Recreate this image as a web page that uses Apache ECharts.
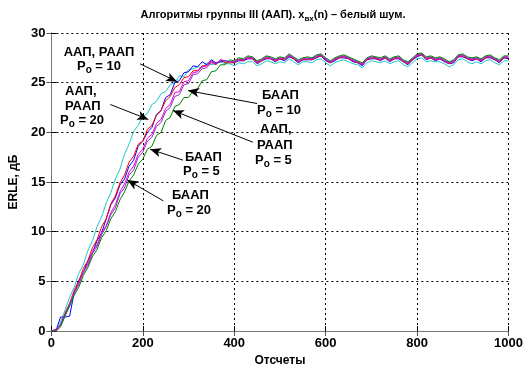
<!DOCTYPE html>
<html><head><meta charset="utf-8">
<script src="https://cdn.jsdelivr.net/npm/echarts@6/dist/echarts.min.js"></script>
<style>html,body{margin:0;padding:0;background:#fff}#c{width:526px;height:372px}</style>
</head><body><div id="c"></div>
<script>
// sample grid (every 10th sample)
const samples = Array.from({length: 101}, (_, i) => i * 10);

// ERLE, dB — ААП, РААП Po=20
const aapP20 = [0,0,0.9,2.1,3.4,4.4,5.8,6.7,8.1,9.1,10.5,11.5,12.9,13.9,15.3,16.3,17.8,18.8,20.1,20.7,21.6,21.9,22.8,23.1,23.9,24.1,24.8,25.0,25.7,25.6,26.3,26.4,26.6,26.5,27.0,26.8,26.9,27.1,26.9,26.9,
26.7,27.0,26.9,27.1,27.1,26.7,26.9,27.2,27.1,26.9,
27.1,27.0,27.4,27.1,26.8,27.1,27.1,27.0,27.3,27.4,
27.0,26.7,27.0,27.2,27.3,27.1,26.9,26.8,26.5,27.0,
27.2,27.1,27.0,27.2,26.9,27.1,27.2,26.8,26.6,27.0,
27.4,27.5,27.1,27.2,27.1,27.1,26.9,26.6,26.8,27.3,
27.4,27.1,26.9,27.1,26.9,27.2,27.3,27.0,26.8,27.2,
27.2];
// ААП, РААП Po=10
const aapP10 = [0,0,0.6,1.8,2.8,4.1,5.0,6.3,7.1,8.4,9.2,10.5,11.3,12.8,13.6,14.9,15.7,17.0,17.6,18.8,19.1,20.3,20.7,21.7,22.2,23.2,23.6,24.5,24.8,25.5,25.6,26.2,26.2,26.7,26.7,27.1,26.8,27.3,27.0,27.0,
27.0,27.3,27.2,27.5,27.4,27.0,27.2,27.5,27.4,27.2,
27.4,27.3,27.7,27.4,27.1,27.3,27.4,27.3,27.6,27.7,
27.3,27.0,27.3,27.5,27.6,27.4,27.2,27.0,26.8,27.3,
27.5,27.4,27.3,27.5,27.2,27.4,27.5,27.1,26.9,27.3,
27.7,27.8,27.4,27.5,27.3,27.4,27.2,26.9,27.1,27.6,
27.7,27.4,27.3,27.4,27.2,27.5,27.6,27.3,27.1,27.5,
27.5];
// БААП Po=20
const baapP20 = [0,0,1.4,1.4,1.5,3.9,5.1,5.9,7.1,7.9,9.1,9.9,11.3,12.7,13.4,14.7,15.3,16.6,17.2,18.6,19.1,20.0,20.5,21.8,22.2,23.5,23.8,25.0,25.2,26.0,26.1,26.7,26.6,27.1,26.8,27.3,27.0,27.1,27.2,27.1,
27.0,27.2,27.2,27.4,27.4,26.9,27.2,27.4,27.4,27.1,
27.4,27.2,27.6,27.4,27.0,27.3,27.3,27.3,27.5,27.7,
27.2,27.0,27.2,27.5,27.5,27.4,27.1,27.0,26.7,27.3,
27.4,27.4,27.2,27.5,27.1,27.4,27.4,27.1,26.8,27.3,
27.6,27.8,27.3,27.5,27.2,27.4,27.1,26.9,27.0,27.6,
27.6,27.4,27.2,27.4,27.1,27.5,27.5,27.3,27.0,27.5,
27.4];
// ААП, РААП Po=5
const aapP5 = [0,0.2,0.5,1.6,2.6,3.9,4.8,6.0,6.8,8.0,8.7,9.9,10.6,11.9,12.7,14.0,14.8,16.0,16.6,17.8,18.3,19.4,19.8,20.9,21.3,22.4,22.8,24.0,24.1,25.1,25.2,26.0,26.1,26.6,26.7,27.2,26.9,27.3,27.2,27.1,
27.1,27.3,27.3,27.5,27.5,27.1,27.2,27.6,27.4,27.3,
27.4,27.4,27.7,27.5,27.1,27.4,27.4,27.4,27.6,27.8,
27.3,27.1,27.3,27.6,27.6,27.5,27.2,27.1,26.8,27.4,
27.5,27.5,27.3,27.6,27.2,27.5,27.5,27.2,26.9,27.4,
27.7,27.9,27.4,27.6,27.3,27.5,27.2,27.0,27.1,27.7,
27.7,27.5,27.3,27.5,27.2,27.6,27.6,27.4,27.1,27.6,
27.5];
// БААП Po=10
const baapP10 = [0,0.1,0.6,1.7,2.7,3.8,4.7,5.9,6.6,7.8,8.5,9.7,10.5,11.7,12.4,13.8,14.4,15.7,16.2,17.5,18.0,19.1,19.5,20.6,21.0,22.1,22.5,23.6,23.8,24.8,24.9,25.8,25.9,26.4,26.5,27.0,26.9,27.3,27.2,27.1,
27.1,27.4,27.3,27.6,27.5,27.1,27.3,27.6,27.5,27.3,
27.5,27.4,27.8,27.5,27.2,27.4,27.5,27.4,27.7,27.8,
27.4,27.1,27.4,27.6,27.7,27.5,27.3,27.1,26.9,27.4,
27.6,27.5,27.4,27.6,27.3,27.5,27.6,27.2,27.0,27.4,
27.8,27.9,27.5,27.6,27.4,27.5,27.3,27.0,27.2,27.7,
27.8,27.5,27.4,27.5,27.3,27.6,27.7,27.4,27.2,27.6,
27.6];
// БААП Po=5
const baapP5 = [0,0,0.4,1.5,2.5,3.6,4.4,5.6,6.4,7.5,8.2,9.4,10.1,11.3,12.0,13.2,14.0,15.1,15.7,16.8,17.3,18.3,18.6,19.7,20.0,21.2,21.5,22.6,22.8,23.5,23.5,24.2,24.4,25.2,25.3,26.1,26.2,26.8,26.8,27.3,
27.2,27.5,27.4,27.7,27.6,27.2,27.4,27.7,27.6,27.4,
27.6,27.5,27.9,27.6,27.3,27.5,27.6,27.5,27.8,27.9,
27.5,27.2,27.5,27.7,27.8,27.6,27.4,27.2,27.0,27.5,
27.7,27.6,27.5,27.7,27.4,27.6,27.7,27.3,27.1,27.5,
27.9,28.0,27.6,27.7,27.5,27.6,27.4,27.1,27.3,27.8,
27.9,27.6,27.5,27.6,27.4,27.7,27.8,27.5,27.3,27.7,
27.7];

const seriesDefs = [
  {name:'ААП, РААП Po=20', data: aapP20, color:'#20c8c8'},
  {name:'БААП Po=20', data: baapP20, color:'#0000ff'},
  {name:'ААП, РААП Po=10', data: aapP10, color:'#ff0000'},
  {name:'ААП, РААП Po=5', data: aapP5, color:'#e000e0'},
  {name:'БААП Po=10', data: baapP10, color:'#9030c0'},
  {name:'БААП Po=5', data: baapP5, color:'#008000'}
];

// annotation arrows: [from, tip] in data coordinates
const arrows = [
  [[194,26.9],[275,25.1]],
  [[129,22.8],[212,21.3]],
  [[450,22.9],[299,24.2]],
  [[441,19.0],[266,22.2]],
  [[288,17.2],[216,18.3]],
  [[245,13.1],[166,15.2]]
];

const FONT = '"Liberation Sans", Arial, Helvetica, sans-serif';
const chart = echarts.init(document.getElementById('c'), null, {renderer:'canvas'});

function lbl(text, x, y, align){
  return {type:'text', x:x, y:y, z:100, style:{
    text:text, fill:'#000', font:'bold 13px '+FONT, textAlign:align||'left', textVerticalAlign:'middle',
    rich:{s:{fontSize:10, fontWeight:'bold', fontFamily:FONT, padding:[8,0,0,0]}}
  }};
}

const series = seriesDefs.map(d => ({
  type:'line', name:d.name, showSymbol:false, symbol:'none', animation:false,
  lineStyle:{width:1, color:d.color}, itemStyle:{color:d.color},
  data: samples.map((n,i)=>[n, d.data[i]])
}));
series.push({
  type:'line', data:[], silent:true, animation:false,
  markLine:{silent:true, animation:false, symbol:['none','arrow'], symbolSize:[7,11], label:{show:false},
    lineStyle:{color:'#000', width:1, type:'solid'},
    emphasis:{disabled:true},
    data: arrows.map(a => [{coord:a[0]},{coord:a[1]}])}
});

chart.setOption({
  animation:false,
  grid:{left:51, right:17, top:33, bottom:34},
  xAxis:[{type:'value', min:0, max:1000, interval:200,
    axisLine:{show:true, onZero:false, lineStyle:{color:'#000'}},
    axisTick:{inside:true, length:5, lineStyle:{color:'#000'}},
    axisLabel:{color:'#000', fontWeight:'bold', fontSize:13, fontFamily:FONT, margin:6, formatter: v => String(v)},
    splitLine:{show:true, lineStyle:{color:'#000', type:[2,3], width:1}},
    name:'Отсчеты', nameLocation:'middle', nameGap:24,
    nameTextStyle:{color:'#000', fontWeight:'bold', fontSize:12, fontFamily:FONT}},
   {type:'value', position:'top', min:0, max:1000, interval:200,
    axisLine:{show:true, lineStyle:{color:'#777'}},
    axisTick:{inside:true, length:5, lineStyle:{color:'#555'}},
    axisLabel:{show:false}, splitLine:{show:false}}],
  yAxis:[{type:'value', min:0, max:30, interval:5,
    axisLine:{show:true, onZero:false, lineStyle:{color:'#000'}},
    axisTick:{inside:true, length:5, lineStyle:{color:'#000'}},
    axisLabel:{color:'#000', fontWeight:'bold', fontSize:13, fontFamily:FONT, margin:6},
    splitLine:{show:true, lineStyle:{color:'#000', type:[2,3], width:1}},
    name:'ERLE, дБ', nameLocation:'middle', nameGap:30, nameRotate:90,
    nameTextStyle:{color:'#000', fontWeight:'bold', fontSize:12, fontFamily:FONT}},
   {type:'value', position:'right', min:0, max:30, interval:5,
    axisLine:{show:true, lineStyle:{color:'#777'}},
    axisTick:{inside:true, length:5, lineStyle:{color:'#555'}},
    axisLabel:{show:false}, splitLine:{show:false}}],
  series: series,
  graphic:[
    {type:'text', x:273, y:15, style:{text:'Алгоритмы группы III (ААП). x{s|вх}(n) – белый шум.', fill:'#000',
      font:'bold 11px '+FONT, textAlign:'center', textVerticalAlign:'middle',
      rich:{s:{fontSize:8, fontWeight:'bold', fontFamily:FONT, padding:[7,0,0,0]}}}},
    lbl('ААП, РААП', 99, 52, 'center'),
    lbl('P{s|o} = 10', 99, 66, 'center'),
    lbl('ААП,', 65, 91),
    lbl('РААП', 65, 106),
    lbl('P{s|o} = 20', 60, 120),
    lbl('БААП', 262, 95),
    lbl('P{s|o} = 10', 257, 110),
    lbl('ААП,', 260, 129),
    lbl('РААП', 257, 145),
    lbl('P{s|o} = 5', 255, 160),
    lbl('БААП', 185, 157),
    lbl('P{s|o} = 5', 183, 171),
    lbl('БААП', 172, 195),
    lbl('P{s|o} = 20', 167, 210)
  ]
});
</script></body></html>
